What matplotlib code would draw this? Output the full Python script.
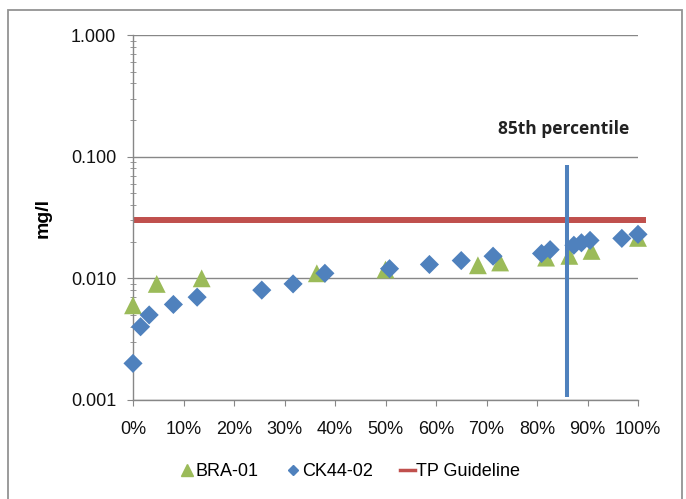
import numpy as np
import matplotlib
matplotlib.use("Agg")
import matplotlib.pyplot as plt
from matplotlib.ticker import LogLocator, FixedLocator, FuncFormatter, NullFormatter
from matplotlib.patches import Rectangle
from matplotlib.lines import Line2D

plt.rcParams["font.family"] = ["Liberation Sans", "DejaVu Sans"]

# percentile rank vs concentration (mg/l)
bra_x = [0.0, 0.047, 0.136, 0.364, 0.50, 0.683, 0.727, 0.818, 0.864, 0.908, 1.0]
bra_y = [0.0060, 0.0090, 0.0100, 0.0110, 0.0118, 0.0128, 0.0135, 0.0148, 0.0153, 0.0168, 0.0215]

ck_x = [0.0, 0.015, 0.032, 0.080, 0.127, 0.255, 0.317, 0.380, 0.508, 0.587,
        0.650, 0.713, 0.809, 0.826, 0.873, 0.888, 0.905, 0.968, 1.0]
ck_y = [0.0020, 0.0040, 0.0050, 0.0061, 0.0070, 0.0080, 0.0090, 0.0110, 0.0120, 0.0130,
        0.0140, 0.0152, 0.0160, 0.0172, 0.0187, 0.0196, 0.0205, 0.0213, 0.0230]

tp_guideline = 0.030
p85_x = 0.86
p85_span = [0.00105, 0.085]

GREEN = "#9BBB59"
BLUE = "#4F81BD"
RED = "#C0504D"
GRID = "#878787"

fig = plt.figure(figsize=(6.86, 4.99), dpi=100)
ax = fig.add_axes((133 / 686, 99 / 499, 505 / 686, 365 / 499))

# outer chart frame
fig.patches.append(Rectangle((8 / 686, -0.05), 674 / 686, 1.05 - 10 / 499,
                             transform=fig.transFigure, fill=False,
                             edgecolor="#939393", linewidth=1.3))

ax.set_yscale("log")
ax.set_ylim(0.001, 1.0)
ax.set_xlim(0, 1)

ax.plot([0, 1.015], [tp_guideline, tp_guideline], color=RED, linewidth=4.3,
        solid_capstyle="butt", clip_on=False, zorder=2)
ax.plot([p85_x, p85_x], p85_span, color=BLUE, linewidth=2.9,
        solid_capstyle="butt", zorder=4)
ax.scatter(bra_x, bra_y, marker="^", s=165, color=GREEN, edgecolors="none",
           clip_on=False, zorder=3)
ax.scatter(ck_x, ck_y, marker="D", s=95, color=BLUE, edgecolors="none",
           clip_on=False, zorder=5)

ax.text(p85_x - 0.008, 0.17, "85th percentile", ha="center", va="center",
        fontsize=12.5, fontweight="bold", color="#222222",
        family=["Open Sans", "DejaVu Sans"])

# axes styling
for side in ("top", "right"):
    ax.spines[side].set_visible(False)
for side in ("left", "bottom"):
    ax.spines[side].set_color(GRID)
    ax.spines[side].set_linewidth(1.0)

ax.yaxis.set_major_locator(LogLocator(base=10, numticks=10))
ax.yaxis.set_minor_locator(LogLocator(base=10, subs=np.arange(2, 10), numticks=20))
ax.yaxis.set_major_formatter(FuncFormatter(lambda v, p: f"{v:.3f}"))
ax.yaxis.set_minor_formatter(NullFormatter())
ax.xaxis.set_major_locator(FixedLocator(np.linspace(0, 1, 11)))
ax.xaxis.set_major_formatter(FuncFormatter(lambda v, p: f"{v * 100:.0f}%"))

ax.tick_params(axis="both", which="major", direction="out", length=4,
               color=GRID, labelsize=13, labelcolor="#111111")
ax.tick_params(axis="y", which="major", pad=8)
ax.tick_params(axis="x", which="major", pad=11)
ax.tick_params(axis="y", which="minor", direction="inout", length=4, color=GRID)
ax.grid(True, which="major", axis="y", color=GRID, linewidth=1.0)
ax.set_axisbelow(True)

ax.set_ylabel("mg/l", fontsize=14, fontweight="bold", labelpad=14)

handles = [
    Line2D([], [], marker="^", linestyle="none", color=GREEN, markersize=9),
    Line2D([], [], marker="D", linestyle="none", color=BLUE, markersize=5.5),
    Line2D([], [], color=RED, linewidth=2.5),
]
fig.legend(handles, ["BRA-01", "CK44-02", "TP Guideline"], loc="center",
           bbox_to_anchor=(350 / 686, 1 - 472 / 499), ncol=3, frameon=False,
           fontsize=13, handlelength=0.8, handletextpad=0.1, columnspacing=1.5)

fig.savefig("out.png", dpi=100)
